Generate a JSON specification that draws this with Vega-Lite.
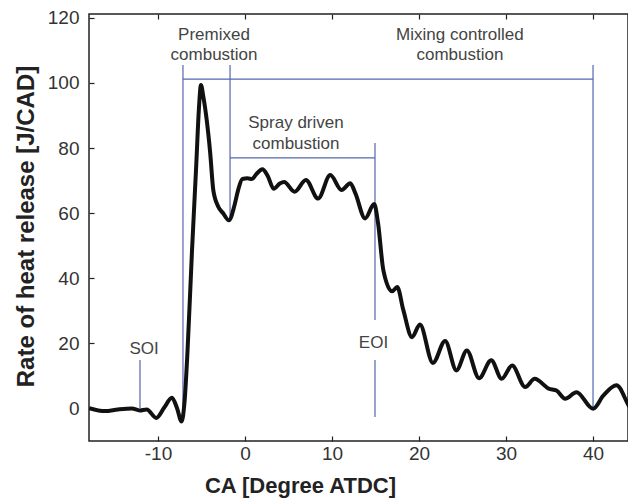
{
  "$schema": "https://vega.github.io/schema/vega-lite/v6.json",
  "width": 539,
  "height": 427,
  "autosize": {"type": "none"},
  "padding": {"left": 89, "top": 14, "right": 0, "bottom": 57},
  "background": "white",
  "config": {
    "font": "Liberation Sans",
    "view": {"stroke": "#222", "strokeWidth": 1.5},
    "axis": {"grid": false, "domain": false, "tickColor": "#222", "tickWidth": 1.2, "tickSize": -5, "labelFont": "Liberation Sans", "titleFont": "Liberation Sans"}
  },
  "datasets": {
    "curve": [
      {"x": -17.9, "y": 0.1}, {"x": -16.1, "y": -0.8}, {"x": -14.6, "y": -0.3}, {"x": -13.0, "y": 0.0},
      {"x": -12.1, "y": -0.6}, {"x": -11.3, "y": -0.3}, {"x": -10.2, "y": -2.9}, {"x": -9.3, "y": 0.2},
      {"x": -8.4, "y": 3.3}, {"x": -7.8, "y": 0.0}, {"x": -7.3, "y": -4.0}, {"x": -6.95, "y": 2.0},
      {"x": -6.6, "y": 18.0}, {"x": -6.1, "y": 48.0}, {"x": -5.6, "y": 75.0}, {"x": -5.3, "y": 92.0},
      {"x": -5.06, "y": 99.4}, {"x": -4.8, "y": 96.0}, {"x": -4.4, "y": 88.6}, {"x": -4.0, "y": 78.5},
      {"x": -3.64, "y": 67.0}, {"x": -3.07, "y": 62.0}, {"x": -2.49, "y": 59.9}, {"x": -1.85, "y": 57.8},
      {"x": -1.2, "y": 62.5}, {"x": -0.8, "y": 67.0}, {"x": -0.3, "y": 70.5}, {"x": 0.3, "y": 70.7},
      {"x": 0.8, "y": 70.5}, {"x": 1.3, "y": 72.0}, {"x": 2.0, "y": 73.5}, {"x": 2.6, "y": 71.5},
      {"x": 3.3, "y": 67.5}, {"x": 4.0, "y": 69.1}, {"x": 4.5, "y": 69.6}, {"x": 5.7, "y": 66.6},
      {"x": 7.0, "y": 70.2}, {"x": 8.4, "y": 64.5}, {"x": 9.8, "y": 71.7}, {"x": 11.1, "y": 67.1},
      {"x": 12.1, "y": 69.2}, {"x": 12.7, "y": 66.0}, {"x": 13.8, "y": 58.4}, {"x": 14.85, "y": 62.8},
      {"x": 15.3, "y": 56.8}, {"x": 15.9, "y": 42.5}, {"x": 16.9, "y": 36.0}, {"x": 17.5, "y": 37.3},
      {"x": 18.2, "y": 30.2}, {"x": 19.2, "y": 21.9}, {"x": 20.1, "y": 25.8}, {"x": 21.6, "y": 14.0},
      {"x": 23.0, "y": 20.7}, {"x": 24.3, "y": 11.7}, {"x": 25.5, "y": 17.8}, {"x": 26.9, "y": 9.3},
      {"x": 28.3, "y": 14.8}, {"x": 29.5, "y": 9.1}, {"x": 30.7, "y": 13.2}, {"x": 32.2, "y": 6.6},
      {"x": 33.3, "y": 9.1}, {"x": 34.9, "y": 6.1}, {"x": 35.8, "y": 5.5}, {"x": 36.8, "y": 3.0},
      {"x": 38.1, "y": 5.0}, {"x": 40.0, "y": -0.1}, {"x": 41.2, "y": 4.0}, {"x": 42.7, "y": 7.1},
      {"x": 44.0, "y": 1.4}, {"x": 44.5, "y": -1.0}
    ],
    "rules": [
      {"x": -7.13, "x2": -7.13, "y": 105.5, "y2": -2.6},
      {"x": -1.72, "x2": -1.72, "y": 105.5, "y2": 57.9},
      {"x": 40.0, "x2": 40.0, "y": 105.5, "y2": 0.15},
      {"x": -7.13, "x2": 40.0, "y": 101.2, "y2": 101.2},
      {"x": -1.72, "x2": 14.94, "y": 77.0, "y2": 77.0},
      {"x": 14.94, "x2": 14.94, "y": 81.6, "y2": 27.2},
      {"x": 14.94, "x2": 14.94, "y": 14.9, "y2": -2.6},
      {"x": -12.07, "x2": -12.07, "y": 14.9, "y2": 0.15}
    ],
    "labels": [
      {"x": -3.56, "y": 114.6, "label": "Premixed"},
      {"x": -3.56, "y": 108.45, "label": "combustion"},
      {"x": 24.7, "y": 114.6, "label": "Mixing controlled"},
      {"x": 24.7, "y": 108.45, "label": "combustion"},
      {"x": 5.86, "y": 87.7, "label": "Spray driven"},
      {"x": 5.86, "y": 81.3, "label": "combustion"},
      {"x": -11.6, "y": 18.4, "label": "SOI"},
      {"x": 14.77, "y": 20.1, "label": "EOI"}
    ]
  },
  "layer": [
    {
      "data": {"name": "rules"},
      "mark": {"type": "rule", "color": "#5566b0", "strokeWidth": 1.2},
      "encoding": {
        "x": {"field": "x", "type": "quantitative", "scale": {"domain": [-17.93, 44.02], "nice": false, "zero": false}, "axis": null},
        "x2": {"field": "x2"},
        "y": {"field": "y", "type": "quantitative", "scale": {"domain": [-10, 121.2], "nice": false, "zero": false}},
        "y2": {"field": "y2"}
      }
    },
    {
      "data": {"name": "curve"},
      "mark": {"type": "line", "interpolate": "monotone", "strokeWidth": 4, "color": "#111", "clip": true},
      "encoding": {
        "x": {"field": "x", "type": "quantitative", "scale": {"domain": [-17.93, 44.02], "nice": false, "zero": false},
          "axis": {"orient": "bottom", "values": [-10, 0, 10, 20, 30, 40], "labelFontSize": 19, "labelColor": "#333", "labelPadding": 8,
            "labelExpr": "replace(datum.label, '\u2212', '-')",
            "title": "CA [Degree ATDC]", "titleFontSize": 22, "titleFontWeight": "bold", "titleColor": "#222",
            "titleX": 211, "titleY": 51, "titleAlign": "center", "titleBaseline": "alphabetic"}},
        "y": {"field": "y", "type": "quantitative", "scale": {"domain": [-10, 121.2], "nice": false, "zero": false},
          "axis": {"values": [0, 20, 40, 60, 80, 100, 120], "labelFontSize": 19, "labelColor": "#333", "labelPadding": 15,
            "title": "Rate of heat release [J/CAD]", "titleFontSize": 24, "titleFontWeight": "bold", "titleColor": "#222",
            "titleX": -56, "titleY": 212, "titleAngle": -90, "titleAlign": "center", "titleBaseline": "alphabetic"}}
      }
    },
    {
      "data": {"name": "labels"},
      "mark": {"type": "text", "fontSize": 17, "color": "#444", "align": "center", "baseline": "middle", "font": "Liberation Sans"},
      "encoding": {
        "x": {"field": "x", "type": "quantitative", "scale": {"domain": [-17.93, 44.02], "nice": false, "zero": false},
          "axis": {"orient": "top", "values": [-10, 0, 10, 20, 30, 40], "labels": false, "title": null}},
        "y": {"field": "y", "type": "quantitative", "scale": {"domain": [-10, 121.2], "nice": false, "zero": false}},
        "text": {"field": "label"}
      }
    }
  ],
  "resolve": {"axis": {"x": "independent"}}
}
